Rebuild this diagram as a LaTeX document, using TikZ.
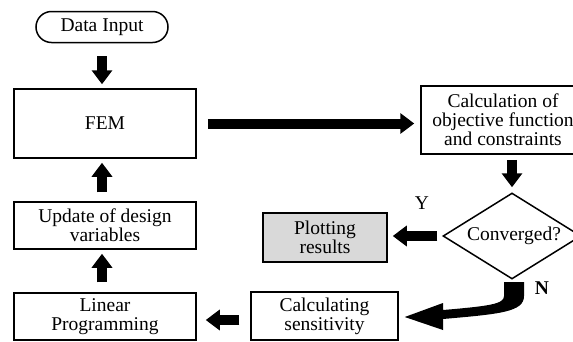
\documentclass[tikz,border=0pt]{standalone}
\usepackage{fontspec}
\setmainfont{Liberation Serif}
\usetikzlibrary{arrows.meta,shapes.geometric}
\begin{document}
\begin{tikzpicture}[x=1pt,y=-1pt,
  every node/.style={font=\fontsize{19.5}{19}\selectfont},
  box/.style={draw, line width=1.5pt, inner sep=0pt, align=center},
  blk/.style={line width=10pt, -{Triangle[width=20pt,length=14pt]}},
  lbl/.style={inner sep=0pt}]
\useasboundingbox (0,0) rectangle (573,341);
\clip (0,0) rectangle (573,341);
\node[box, rounded corners=15.5pt, minimum width=132pt, minimum height=31pt] (input) at (102,27) {Data Input};
\node[box, minimum width=182pt, minimum height=69pt] (fem) at (105,123.5) {FEM};
\node[box, minimum width=164pt, minimum height=68pt] (calc) at (503,120) {Calculation of\\objective function\\and constraints};
\node[box, diamond, aspect=1.6, minimum width=138pt, minimum height=86pt] (conv) at (512,236) {};
\node[lbl] at (514,236) {Converged?};
\node[box, fill=black!15, minimum width=124pt, minimum height=49pt] (plot) at (325,237.5) {Plotting\\results};
\node[box, minimum width=147pt, minimum height=48pt] (sens) at (324.5,316) {Calculating\\sensitivity};
\node[box, minimum width=182pt, minimum height=47pt] (lp) at (105,316.5) {Linear\\Programming};
\node[box, minimum width=182pt, minimum height=47pt] (upd) at (105,225.5) {Update of design\\variables};
\node[lbl] (y) at (422,203) {Y};
\node[lbl, font=\fontsize{19.5}{19}\selectfont\bfseries] (n) at (542,288) {N};
% arrows
\draw[blk, shorten <=13pt, shorten >=4pt] (input.south) -- (input.south |- fem.north);
\draw[blk, shorten <=11pt, shorten >=6pt] (fem.east) -- (calc.west |- fem.east);
\draw[blk, shorten <=5pt, shorten >=5pt] (conv.north |- calc.south) -- (conv.north);
\draw[blk, shorten <=5pt, shorten >=5pt] (conv.west) -- (plot.east |- conv.west);
\coordinate (sl) at ([yshift=-4pt]sens.west);
\draw[blk, shorten <=11pt, shorten >=9pt] (sl) -- (lp.east |- sl);
\coordinate (lpt) at ([xshift=-3pt]lp.north);
\draw[blk, shorten <=10pt, shorten >=4pt] (lpt) -- (lpt |- upd.south);
\coordinate (upt) at ([xshift=-3pt]upd.north);
\draw[blk, shorten <=9pt, shorten >=4pt] (upt) -- (upt |- fem.south);
% curved block arrow from Converged to sensitivity
\coordinate (tip) at ([xshift=6pt]sens.east |- 0,317);
\fill[black] (504,282) -- (524,282) -- (524,296)
  .. controls (524,312) and (500,314) .. (443,319)
  -- (443,330) -- (tip) -- (443,303) -- (443,310)
  .. controls (490,306) and (504,304) .. (504,296) -- cycle;
\end{tikzpicture}
\end{document}
